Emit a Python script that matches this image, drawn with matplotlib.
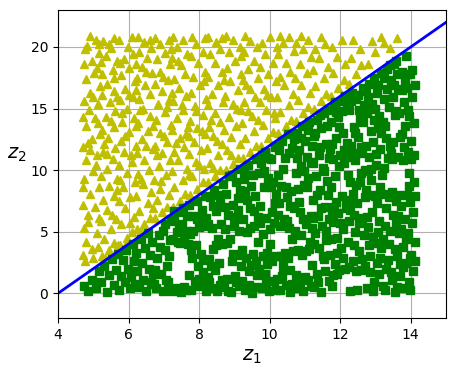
import numpy as np
import matplotlib
matplotlib.use("Agg")
import matplotlib.pyplot as plt

# unrolled swiss roll: (z1, z2) points above the boundary (yellow triangles)
yellow_pts = [
    (4.72,3.1),(4.8,4.2),(4.95,3.6),(4.75,5.3),(5.1,4.9),(4.85,6.4),(4.7,7.2),(5.05,7.0),(4.9,8.1),(5.15,8.6),
    (4.75,9.3),(5.0,9.9),(4.8,10.8),(5.1,11.2),(4.72,11.9),(4.95,12.5),(5.18,12.9),(4.78,13.6),(5.05,14.2),(4.88,14.9),
    (4.74,15.6),(5.12,15.4),(4.92,16.3),(5.18,16.8),(4.8,17.4),(5.02,17.9),(4.73,18.6),(4.95,18.9),(5.15,19.5),(4.82,20.1),
    (5.08,20.6),(4.9,20.9),(4.76,2.6),(5.0,2.9),(5.12,3.8),(4.86,5.8),(5.16,6.1),(4.7,8.6),(5.08,10.4),(4.84,12.2),
    (5.14,13.8),(4.71,14.3),(4.98,15.9),(5.1,18.3),(4.76,19.8),(5.16,20.2),(4.9,11.6),
    (5.25,3.0),(5.45,3.5),(5.6,4.1),(5.3,4.4),(5.5,5.2),(5.22,5.9),(5.65,6.0),(5.4,6.8),(5.28,7.6),(5.58,7.9),
    (5.45,8.7),(5.23,9.5),(5.66,9.3),(5.38,10.1),(5.55,10.9),(5.27,11.5),(5.62,11.8),(5.42,12.6),(5.24,13.3),(5.58,13.5),
    (5.36,14.3),(5.63,14.8),(5.48,15.5),(5.25,16.1),(5.6,16.4),(5.4,17.0),(5.26,17.8),(5.55,18.1),(5.68,18.9),(5.35,19.3),
    (5.5,19.9),(5.28,20.5),(5.6,20.7),(5.45,20.2),(5.7,3.9),(5.33,2.9),(5.52,6.4),(5.68,8.4),(5.3,12.1),(5.5,14.0),
    (5.68,15.9),(5.22,18.8),(5.58,17.5),(5.4,11.3),
    (5.75,3.9),(5.95,4.5),(6.1,5.0),(5.8,5.6),(6.15,6.2),(5.9,6.9),(5.72,7.5),(6.05,7.8),(5.85,8.6),(6.18,9.0),
    (5.95,9.8),(5.74,10.4),(6.1,10.7),(5.88,11.5),(6.2,12.0),(5.78,12.4),(6.0,13.1),(5.82,13.9),(6.15,14.2),(5.95,15.0),
    (5.76,15.7),(6.12,15.9),(5.9,16.6),(6.18,17.2),(5.8,17.7),(6.02,18.3),(5.86,19.0),(6.14,19.4),(5.98,20.0),(5.74,20.6),
    (6.1,20.8),(6.2,18.6),(5.92,4.0),(6.05,5.7),(5.76,9.2),(6.08,11.2),(5.9,12.8),(6.2,13.6),(5.82,14.6),(6.0,16.1),
    (5.77,18.7),
    (6.25,5.2),(6.45,5.6),(6.6,6.1),(6.3,6.7),(6.55,7.3),(6.22,7.9),(6.65,8.2),(6.4,8.9),(6.28,9.7),(6.58,10.0),
    (6.45,10.8),(6.24,11.4),(6.68,11.7),(6.38,12.5),(6.55,13.2),(6.26,13.8),(6.62,14.4),(6.42,15.0),(6.3,15.8),(6.6,16.2),
    (6.48,16.9),(6.24,17.5),(6.66,17.9),(6.38,18.4),(6.52,19.1),(6.3,19.6),(6.64,19.9),(6.45,20.4),(6.28,20.8),(6.6,20.6),
    (6.68,6.9),(6.35,9.3),(6.5,12.0),(6.68,13.6),(6.32,14.9),(6.5,18.0),(6.22,16.5),(6.35,5.1),
    (6.75,6.1),(6.95,6.6),(7.1,7.0),(6.8,7.6),(7.15,8.0),(6.9,8.5),(6.72,9.2),(7.05,9.6),(6.85,10.3),(7.18,10.8),
    (6.95,11.4),(6.74,12.0),(7.1,12.3),(6.88,13.0),(7.2,13.7),(6.78,14.1),(7.02,14.7),(6.84,15.4),(7.16,15.7),(6.96,16.4),
    (6.76,17.0),(7.12,17.3),(6.9,18.0),(7.18,18.6),(6.8,19.0),(7.04,19.5),(6.88,20.2),(7.14,20.6),(6.74,20.7),(7.0,12.8),
    (6.82,11.2),(7.08,15.1),(6.92,9.1),(7.2,19.8),(6.98,17.6),
    (7.25,7.0),(7.45,7.5),(7.6,8.1),(7.3,8.6),(7.55,9.2),(7.22,9.9),(7.66,10.1),(7.4,10.8),(7.28,11.5),(7.58,11.9),
    (7.45,12.6),(7.24,13.3),(7.68,13.5),(7.38,14.2),(7.55,14.9),(7.26,15.6),(7.64,16.0),(7.44,16.7),(7.3,17.4),(7.6,17.8),
    (7.48,18.5),(7.24,19.1),(7.66,19.4),(7.38,20.0),(7.55,20.6),(7.26,20.8),(7.7,9.6),(7.35,12.2),(7.52,15.3),(7.22,16.3),
    (7.62,12.9),(7.4,18.9),
    (7.75,8.0),(7.95,8.5),(8.1,9.0),(7.8,9.5),(8.15,10.1),(7.9,10.7),(7.72,11.3),(8.05,11.6),(7.85,12.3),(8.18,12.9),
    (7.95,13.4),(7.74,14.0),(8.1,14.5),(7.88,15.2),(8.2,15.8),(7.78,16.3),(8.02,16.9),(7.84,17.6),(8.16,18.0),(7.96,18.7),
    (7.76,19.3),(8.12,19.6),(7.9,20.2),(8.18,20.7),(7.8,20.8),(8.0,10.4),(7.92,14.8),(8.14,17.2),(7.72,12.8),(8.08,13.2),
    (8.25,9.0),(8.45,9.5),(8.6,10.0),(8.3,10.6),(8.55,11.2),(8.22,11.8),(8.66,12.1),(8.4,12.8),(8.28,13.5),(8.58,13.9),
    (8.45,14.6),(8.24,15.3),(8.68,15.5),(8.38,16.2),(8.55,16.9),(8.26,17.6),(8.64,18.0),(8.44,18.7),(8.3,19.4),(8.6,19.8),
    (8.48,20.4),(8.25,20.8),(8.66,20.7),(8.35,14.1),(8.52,12.4),(8.7,17.3),(8.4,10.2),
    (8.75,10.0),(8.95,10.5),(9.1,11.0),(8.8,11.6),(9.15,12.1),(8.9,12.7),(8.72,13.3),(9.05,13.6),(8.85,14.3),(9.18,14.9),
    (8.95,15.4),(8.74,16.0),(9.1,16.5),(8.88,17.2),(9.2,17.8),(8.78,18.3),(9.02,18.9),(8.84,19.6),(9.16,20.0),(8.96,20.6),
    (8.76,20.9),(9.08,15.0),(8.9,11.2),(9.2,19.3),
    (9.25,11.0),(9.45,11.5),(9.6,12.0),(9.3,12.6),(9.55,13.2),(9.22,13.8),(9.66,14.1),(9.4,14.8),(9.28,15.5),(9.58,15.9),
    (9.45,16.6),(9.24,17.3),(9.68,17.5),(9.38,18.2),(9.55,18.9),(9.26,19.6),(9.64,20.0),(9.44,20.5),(9.3,20.9),(9.5,14.4),
    (9.34,16.9),
    (9.75,12.0),(9.95,12.6),(10.1,13.1),(9.8,13.7),(10.15,14.2),(9.9,14.9),(9.72,15.5),(10.05,15.9),(9.85,16.6),(10.18,17.2),
    (9.95,17.8),(9.74,18.4),(10.1,18.7),(9.88,19.4),(10.2,20.0),(9.78,20.3),(10.02,20.8),(9.92,16.1),(10.12,14.6),
    (10.25,13.0),(10.45,13.6),(10.6,14.1),(10.3,14.7),(10.55,15.3),(10.22,15.9),(10.66,16.2),(10.4,16.9),(10.28,17.6),(10.58,18.0),
    (10.45,18.7),(10.24,19.4),(10.68,19.7),(10.38,20.3),(10.55,20.8),(10.3,20.9),
    (10.75,14.0),(10.95,14.6),(11.1,15.1),(10.8,15.7),(11.15,16.3),(10.9,16.9),(10.72,17.5),(11.05,17.9),(10.85,18.6),(11.18,19.2),
    (10.95,19.8),(10.74,20.3),(11.1,20.6),(10.88,20.9),
    (11.25,15.0),(11.45,15.6),(11.6,16.2),(11.3,16.8),(11.55,17.5),(11.22,18.1),(11.66,18.4),(11.4,19.1),(11.28,19.8),(11.58,20.2),
    (11.45,20.8),
    (11.75,16.0),(11.95,16.7),(12.1,17.3),(11.8,17.9),(12.15,18.6),(11.9,19.2),(11.78,20.0),(12.05,20.6),
    (12.25,17.0),(12.45,17.8),(12.6,18.5),(12.3,19.1),(12.55,19.8),(12.35,20.6),
    (12.8,18.6),(13.0,19.6),(12.9,20.5),(13.15,20.8),
    (13.4,19.9),(13.6,20.7),(13.25,20.3),
]

# points below the boundary (green squares)
green_pts = [
    (4.74,0.6),(4.86,0.2),(4.95,1.1),(5.08,0.4),(5.16,1.8),
    (5.23,0.9),(5.31,2.2),(5.38,0.1),(5.46,1.5),(5.52,2.8),(5.59,0.7),(5.64,1.9),(5.69,3.2),
    (5.72,0.3),(5.78,1.4),(5.83,2.7),(5.89,0.9),(5.94,3.5),(5.99,2.0),(6.04,0.4),(6.08,1.3),(6.12,4.0),(6.16,2.6),(6.19,0.8),
    (6.21,3.3),(6.25,1.8),(6.29,0.5),(6.34,4.4),(6.38,2.5),(6.41,1.1),(6.46,3.7),(6.5,0.2),(6.54,4.9),(6.57,2.0),
    (6.61,3.1),(6.64,0.9),(6.67,4.2),(6.69,1.6),
    (6.73,0.8),(6.81,2.9),(6.86,4.7),(6.92,1.6),(6.97,0.2),(7.02,3.5),(7.04,5.6),(7.09,2.2),(7.13,0.9),(7.17,4.3),
    (7.19,6.0),(6.76,1.9),(6.88,3.8),(6.99,5.1),(7.06,1.1),(7.15,3.0),(6.79,0.4),
    (7.22,0.2),(7.26,4.4),(7.3,5.9),(7.34,0.4),(7.37,5.0),(7.41,6.6),(7.45,4.1),(7.48,0.1),(7.52,5.6),(7.55,6.9),
    (7.58,4.6),(7.62,0.3),(7.65,6.3),(7.68,4.0),(7.7,7.2),(7.28,6.7),(7.43,5.3),(7.57,0.5),(7.66,5.1),(7.39,4.2),
    (7.72,1.5),(7.75,4.8),(7.78,0.3),(7.81,2.9),(7.84,6.3),(7.87,1.0),(7.9,3.9),(7.93,7.5),(7.96,2.2),(7.99,5.4),
    (8.02,0.6),(8.05,3.2),(8.08,6.8),(8.11,1.7),(8.14,5.5),(8.17,7.9),(8.19,0.2),(7.76,3.5),(7.95,6.0),(8.12,2.7),
    (7.83,5.1),(8.0,1.2),
    (8.21,6.1),(8.24,1.3),(8.27,2.8),(8.3,7.8),(8.33,0.4),(8.36,5.3),(8.39,3.6),(8.42,8.4),(8.45,1.9),(8.48,6.7),
    (8.51,0.2),(8.54,4.4),(8.57,2.5),(8.6,7.3),(8.63,5.6),(8.66,1.1),(8.69,8.9),(8.25,5.6),(8.35,2.2),(8.47,3.9),
    (8.58,0.7),(8.65,4.0),(8.4,7.1),(8.55,8.0),(8.28,0.9),
    (8.71,0.5),(8.73,5.2),(8.76,8.1),(8.79,1.2),(8.82,6.4),(8.85,9.5),(8.87,4.4),(8.9,0.1),(8.93,2.6),(8.96,7.2),
    (8.99,5.5),(9.02,1.4),(9.05,9.0),(9.08,3.1),(9.11,6.8),(9.14,0.6),(9.17,8.4),(9.19,2.2),(8.74,7.0),(8.81,0.2),
    (8.94,9.6),(9.0,6.2),(9.06,0.9),(9.13,5.1),(9.16,10.1),(8.97,3.2),(9.1,7.7),(8.78,4.1),
    (9.21,1.0),(9.24,6.0),(9.27,9.3),(9.3,0.3),(9.33,2.9),(9.36,7.6),(9.39,10.4),(9.42,1.8),(9.45,5.3),(9.48,8.7),
    (9.51,0.0),(9.54,3.2),(9.57,6.7),(9.6,10.9),(9.63,1.5),(9.66,4.2),(9.69,9.8),(9.23,3.5),(9.29,8.3),(9.35,5.0),
    (9.41,0.7),(9.47,2.3),(9.53,9.6),(9.59,7.9),(9.65,0.5),(9.68,6.2),(9.26,10.0),(9.44,6.9),(9.62,2.6),(9.56,5.5),
    (9.71,2.0),(9.73,7.1),(9.76,10.6),(9.78,0.4),(9.81,4.8),(9.83,8.6),(9.86,11.5),(9.88,1.6),(9.91,6.1),(9.93,3.3),
    (9.96,9.4),(9.98,0.2),(10.01,5.2),(10.03,10.9),(10.06,2.6),(10.08,6.6),(10.1,9.0),(10.13,1.0),(10.15,11.9),(10.17,3.0),
    (10.19,8.1),(9.74,5.7),(9.8,3.0),(9.85,9.9),(9.9,0.9),(9.95,11.0),(10.0,4.0),(10.04,8.6),(10.11,5.7),(10.16,7.3),
    (9.79,11.2),(9.92,2.4),(10.18,0.3),
    (10.21,1.2),(10.23,6.4),(10.26,11.6),(10.28,0.3),(10.31,3.0),(10.33,8.7),(10.36,12.4),(10.38,2.0),(10.41,6.0),(10.43,11.0),
    (10.46,0.7),(10.48,7.8),(10.51,2.9),(10.53,12.9),(10.56,5.3),(10.58,0.1),(10.61,8.3),(10.63,11.8),(10.66,3.4),(10.68,6.9),
    (10.24,9.6),(10.29,5.5),(10.35,1.4),(10.39,10.1),(10.44,3.3),(10.49,5.9),(10.54,11.4),(10.59,1.9),(10.64,4.4),(10.69,12.5),
    (10.27,7.3),(10.37,2.6),(10.47,8.6),(10.57,7.1),(10.62,0.8),(10.22,12.0),
    (10.71,0.4),(10.73,5.1),(10.75,9.8),(10.78,13.0),(10.8,3.5),(10.82,7.4),(10.84,11.6),(10.86,0.9),(10.88,4.7),(10.9,10.3),
    (10.92,13.6),(10.94,6.0),(10.96,0.2),(10.98,8.8),(11.0,12.4),(11.02,3.4),(11.04,5.6),(11.06,11.1),(11.08,1.1),(11.1,9.4),
    (11.12,13.9),(11.14,4.2),(11.16,6.3),(11.18,0.6),(11.2,12.0),(10.74,1.5),(10.77,11.0),(10.81,8.5),(10.85,6.6),(10.89,12.6),
    (10.93,3.1),(10.97,9.9),(11.01,1.3),(11.05,8.6),(11.09,13.3),(11.13,3.6),(11.17,10.7),(11.19,5.3),
    (11.21,2.3),(11.23,7.6),(11.25,12.8),(11.27,0.5),(11.29,4.9),(11.31,9.5),(11.33,14.1),(11.35,1.6),(11.37,6.3),(11.39,11.2),
    (11.41,3.7),(11.43,8.4),(11.45,13.4),(11.47,0.1),(11.49,5.5),(11.51,10.2),(11.53,14.6),(11.55,2.8),(11.57,7.0),(11.59,12.1),
    (11.61,4.3),(11.63,9.1),(11.65,14.9),(11.67,1.0),(11.69,6.0),(11.22,10.6),(11.26,4.0),(11.3,13.0),(11.34,8.0),(11.38,0.9),
    (11.42,11.9),(11.46,6.9),(11.5,3.0),(11.54,9.9),(11.58,1.8),(11.62,13.6),(11.66,8.0),(11.68,11.0),(11.24,6.1),(11.44,14.5),
    (11.6,5.1),
    (11.71,3.1),(11.73,8.6),(11.75,13.9),(11.77,0.6),(11.79,5.8),(11.81,10.9),(11.83,15.1),(11.85,2.4),(11.87,7.4),(11.89,12.6),
    (11.91,4.5),(11.93,6.5),(11.95,14.3),(11.97,1.9),(11.99,11.2),(12.01,15.6),(12.03,3.7),(12.05,7.9),(12.07,13.0),(12.09,5.2),
    (12.11,10.6),(12.13,16.0),(12.15,2.0),(12.17,6.9),(12.19,12.2),(11.72,11.7),(11.76,6.6),(11.8,1.5),(11.84,9.5),(11.88,14.7),
    (11.92,3.3),(11.96,10.3),(12.0,5.7),(12.04,14.8),(12.08,2.9),(12.12,11.6),(12.16,7.6),(12.2,15.3),(11.74,4.4),(11.78,12.1),
    (11.82,7.0),(11.86,15.5),(11.9,1.6),(11.98,13.5),
    (12.21,4.2),(12.23,9.6),(12.25,14.9),(12.27,0.2),(12.29,6.8),(12.31,12.0),(12.33,16.3),(12.35,2.6),(12.37,8.1),(12.39,13.5),
    (12.41,5.0),(12.43,10.8),(12.45,15.8),(12.47,0.3),(12.49,7.3),(12.51,12.7),(12.53,3.4),(12.55,9.0),(12.57,14.2),(12.59,1.9),
    (12.61,6.1),(12.63,11.4),(12.65,16.7),(12.67,4.7),(12.69,10.0),(12.22,11.1),(12.26,2.1),(12.3,15.6),(12.34,7.5),(12.38,3.9),
    (12.42,13.0),(12.46,8.8),(12.5,16.1),(12.54,5.7),(12.58,11.9),(12.62,2.8),(12.66,13.9),(12.7,7.8),(12.24,5.9),(12.28,9.0),
    (12.36,11.4),(12.44,1.8),(12.52,14.9),(12.6,9.8),(12.68,15.3),(12.4,6.4),
    (12.71,2.2),(12.73,8.4),(12.75,14.6),(12.77,0.4),(12.79,5.4),(12.81,11.1),(12.83,17.0),(12.85,3.0),(12.87,9.2),(12.89,15.4),
    (12.91,6.6),(12.93,12.3),(12.95,17.5),(12.97,0.9),(12.99,4.1),(13.01,10.4),(13.03,16.3),(13.05,7.3),(13.07,13.4),(13.09,1.6),
    (13.11,5.9),(13.13,11.7),(13.15,17.9),(13.17,3.7),(13.19,9.6),(12.72,12.0),(12.76,6.2),(12.8,15.9),(12.84,1.7),(12.88,10.1),
    (12.92,4.6),(12.96,14.1),(13.0,7.9),(13.04,2.5),(13.08,16.9),(13.12,8.6),(13.16,13.0),(13.2,0.6),(12.74,16.4),(12.78,9.9),
    (12.82,3.9),(12.86,13.2),(12.9,8.0),(12.94,0.2),(12.98,15.0),(13.02,11.3),(13.06,5.0),(13.1,14.4),(13.14,2.9),
    (13.21,4.4),(13.23,10.2),(13.25,15.8),(13.27,0.3),(13.29,6.9),(13.31,12.6),(13.33,18.2),(13.35,2.7),(13.37,7.8),(13.39,15.1),
    (13.41,5.1),(13.43,11.4),(13.45,17.3),(13.47,1.1),(13.49,6.4),(13.51,12.3),(13.53,18.6),(13.55,3.6),(13.57,7.5),(13.59,14.8),
    (13.61,0.5),(13.63,11.1),(13.65,16.6),(13.67,4.9),(13.69,12.7),(13.22,8.1),(13.26,13.6),(13.3,2.0),(13.34,16.6),(13.38,4.0),
    (13.42,12.0),(13.46,8.2),(13.5,15.9),(13.54,0.1),(13.58,5.6),(13.62,17.8),(13.66,8.0),(13.7,2.4),(13.24,17.5),(13.28,5.5),
    (13.36,11.0),(13.44,1.7),(13.52,16.9),(13.6,3.0),(13.68,14.6),(13.4,18.5),(13.48,10.9),(13.56,14.5),(13.64,6.3),(13.21,13.9),
    (13.58,18.9),
    (13.71,1.4),(13.72,7.1),(13.74,12.9),(13.75,18.0),(13.77,3.8),(13.78,10.8),(13.8,15.5),(13.81,0.4),(13.83,6.0),(13.84,13.6),
    (13.86,19.3),(13.87,2.5),(13.89,8.0),(13.9,16.7),(13.92,4.9),(13.93,11.5),(13.95,14.4),(13.96,0.9),(13.98,7.4),(13.99,17.8),
    (14.01,3.1),(14.02,12.4),(14.04,5.7),(14.05,15.9),(14.07,1.8),(14.08,9.0),(14.1,13.8),(14.11,4.2),(14.12,16.9),(14.13,7.9),
    (13.73,5.2),(13.76,16.5),(13.79,2.1),(13.82,11.9),(13.85,17.3),(13.88,4.4),(13.91,14.9),(13.94,8.7),(13.97,2.9),(14.0,10.9),
    (14.03,18.1),(14.06,6.6),(14.09,11.2),(14.11,2.6),(13.95,9.8),(13.99,0.3),
]

boundary_z1 = [4, 15]
boundary_z2 = [0, 22]

yellow = np.array(yellow_pts)
green = np.array(green_pts)

fig = plt.figure(figsize=(4.55, 3.76), dpi=100)
ax = fig.add_axes([58/455, 1 - 318/376, 388/455, 308/376])

ax.plot(yellow[:, 0], yellow[:, 1], "y^")
ax.plot(green[:, 0], green[:, 1], "gs")
ax.plot(boundary_z1, boundary_z2, "b-", linewidth=2)

ax.axis([4, 15, -2, 23])
ax.set_xticks([4, 6, 8, 10, 12, 14])
ax.set_yticks([0, 5, 10, 15, 20])
ax.set_xlabel("$z_1$", fontsize=14)
ax.set_ylabel("$z_2$", fontsize=14, rotation=0, labelpad=10)
ax.grid(True)

fig.savefig("out.png", dpi=100)
